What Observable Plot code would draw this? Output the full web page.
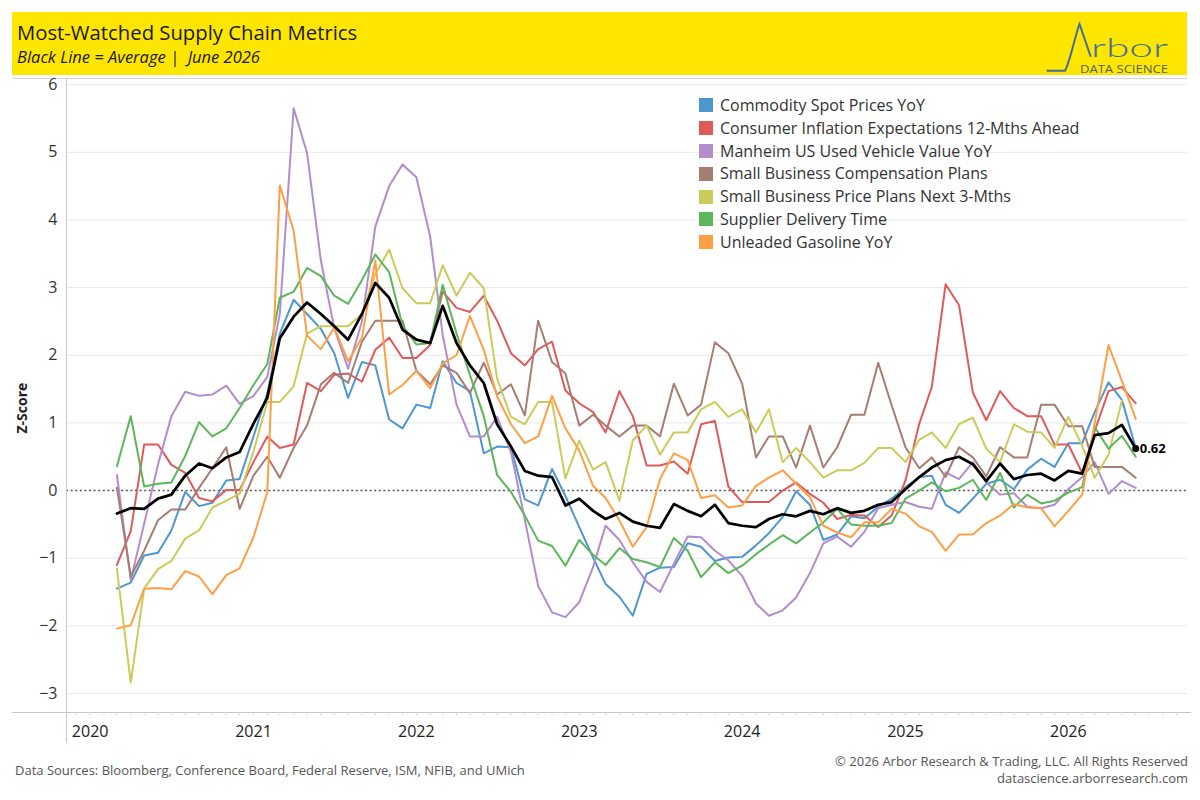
<!DOCTYPE html>
<html>
<head>
<meta charset="utf-8">
<script src="https://cdn.jsdelivr.net/npm/d3@7"></script>
<script src="https://cdn.jsdelivr.net/npm/@observablehq/plot@0.6"></script>
<style>
  body { margin: 0; background: #fff; }
  #wrap { position: relative; width: 1200px; height: 800px; overflow: hidden; font-family: "Open Sans", sans-serif; }
  #header { position: absolute; left: 0; top: 0; }
  #chart { position: absolute; left: 0; top: 78px; }
  #legend { position: absolute; left: 699px; top: 94px; font-size: 16px; color: #333; }
  .lrow { position: relative; height: 22.8px; line-height: 22.8px; white-space: nowrap; }
  .lsw { position: absolute; left: 0; top: 4.4px; width: 14px; height: 14px; }
  .ltx { position: absolute; left: 21px; top: 0; }
  .foot { position: absolute; font-size: 13px; color: #555; white-space: nowrap; }
</style>
</head>
<body>
<div id="wrap">
  <svg id="header" width="1200" height="80" xmlns="http://www.w3.org/2000/svg">
    <rect x="12" y="12" width="1175" height="63" fill="#FFE600"></rect>
    <text x="17" y="40" font-family="Open Sans" font-size="20.3" fill="#1a1a1a">Most-Watched Supply Chain Metrics</text>
    <text x="17" y="63" font-family="Open Sans" font-style="italic" font-size="16.5" fill="#1a1a1a">Black Line = Average |&#160; June 2026</text>
    <path d="M1046.7,70.7 L1065,70.7 C1070,62 1075,36 1079.5,24 L1090.7,56.7" fill="none" stroke="#3f6f9f" stroke-width="2"></path>
    <text x="1091" y="56.7" font-family="Lato, Open Sans" font-weight="300" font-size="25" fill="#3f6f9f" textLength="77" lengthAdjust="spacingAndGlyphs">rbor</text>
    <text x="1080" y="72.5" font-family="Open Sans" font-size="11" fill="#4d6270" textLength="88" lengthAdjust="spacingAndGlyphs">DATA SCIENCE</text>
    <line x1="12" x2="1187" y1="78.5" y2="78.5" stroke="#d4d4d4" stroke-width="1"></line>
  </svg>
  <div id="chart"></div>
  <div id="legend"></div>
  <div class="foot" style="left:15px; top:761px;">Data Sources: Bloomberg, Conference Board, Federal Reserve, ISM, NFIB, and UMich</div>
  <div class="foot" style="right:12px; top:752px; text-align:right;">© 2026 Arbor Research &amp; Trading, LLC. All Rights Reserved</div>
  <div class="foot" style="right:12px; top:769px; text-align:right;">datascience.arborresearch.com</div>
</div>
<script>
// ---- Data (monthly, Mar 2020 – Jun 2026) ----
const months = d3.utcMonth.range(new Date(Date.UTC(2020, 2, 1)), new Date(Date.UTC(2026, 6, 1)));

const seriesNames = [
  "Commodity Spot Prices YoY",
  "Consumer Inflation Expectations 12-Mths Ahead",
  "Manheim US Used Vehicle Value YoY",
  "Small Business Compensation Plans",
  "Small Business Price Plans Next 3-Mths",
  "Supplier Delivery Time",
  "Unleaded Gasoline YoY"
];
const seriesColors = ["#4E97CE", "#E05A5B", "#B28DCC", "#A67D72", "#CBCB5A", "#5CB65B", "#FF9F45"];

const commodity = [-1.45,-1.36,-0.96,-0.92,-0.59,-0.02,-0.23,-0.18,0.15,0.17,
  0.80,1.44,2.32,2.82,2.61,2.39,2.03,1.37,1.90,1.85,
  1.05,0.92,1.27,1.22,1.91,1.59,1.47,0.55,0.65,0.64,
  -0.13,-0.22,0.32,-0.08,-0.54,-0.99,-1.38,-1.57,-1.85,-1.23,
  -1.14,-1.13,-0.78,-0.83,-1.04,-0.99,-0.98,-0.81,-0.63,-0.39,
  -0.01,-0.21,-0.73,-0.65,-0.38,-0.41,-0.24,-0.12,0.05,0.20,
  0.22,-0.21,-0.33,-0.12,0.10,0.16,0.02,0.31,0.47,0.35,
  0.70,0.70,1.16,1.60,1.34,0.63];
const inflationExp = [-1.10,-0.60,0.68,0.68,0.38,0.26,-0.11,-0.16,0.01,0.01,
  0.42,0.80,0.63,0.68,1.59,1.47,1.71,1.73,1.61,2.08,
  2.26,1.96,1.96,2.15,2.94,2.70,2.64,2.88,2.51,2.03,
  1.85,2.09,2.20,1.48,1.29,1.16,0.86,1.47,1.10,0.37,
  0.37,0.43,0.25,0.98,1.03,0.06,-0.17,-0.17,-0.17,0.00,
  0.12,-0.05,-0.18,-0.42,-0.36,-0.37,-0.54,-0.37,0.15,0.99,
  1.53,3.05,2.74,1.45,1.04,1.47,1.22,1.10,1.10,0.68,
  0.68,0.26,0.88,1.47,1.53,1.29];
const manheim = [0.23,-1.32,-0.49,0.38,1.10,1.46,1.40,1.42,1.55,1.28,
  1.40,1.68,2.61,5.65,4.99,3.40,2.40,1.80,2.50,3.90,
  4.50,4.82,4.63,3.75,2.30,1.27,0.80,0.80,1.09,0.57,
  -0.43,-1.41,-1.80,-1.87,-1.65,-1.13,-0.52,-0.73,-1.06,-1.35,
  -1.50,-1.08,-0.68,-0.69,-0.89,-1.03,-1.26,-1.67,-1.85,-1.77,
  -1.58,-1.22,-0.78,-0.68,-0.83,-0.61,-0.26,-0.21,-0.17,-0.24,
  -0.27,0.27,0.17,0.42,0.12,-0.06,-0.04,-0.24,-0.26,-0.21,
  0.02,0.20,0.42,-0.05,0.14,0.04];
const compPlans = [0.04,-1.27,-0.89,-0.44,-0.28,-0.28,0.04,0.33,0.64,-0.27,
  0.22,0.50,0.19,0.63,0.96,1.57,1.74,1.59,2.20,2.51,
  2.51,2.51,1.77,1.57,1.85,1.74,1.44,1.89,1.42,1.57,
  1.11,2.51,1.90,1.73,0.96,1.12,0.96,0.80,0.96,0.96,
  0.80,1.58,1.11,1.27,2.19,2.03,1.58,0.49,0.80,0.80,
  0.34,0.96,0.34,0.64,1.12,1.12,1.89,1.26,0.64,0.33,
  0.49,0.20,0.64,0.49,0.21,0.64,0.49,0.49,1.27,1.27,
  0.95,0.95,0.35,0.35,0.35,0.19];
const pricePlans = [-1.16,-2.84,-1.45,-1.16,-1.04,-0.71,-0.59,-0.25,-0.15,-0.05,
  0.58,1.31,1.31,1.54,2.32,2.43,2.43,2.43,2.61,3.20,
  3.56,2.99,2.77,2.77,3.33,2.88,3.22,2.99,1.65,1.09,
  0.98,1.31,1.31,0.18,0.74,0.31,0.42,-0.15,0.74,0.96,
  0.53,0.86,0.86,1.20,1.31,1.09,1.20,0.86,1.20,0.42,
  0.63,0.42,0.19,0.30,0.30,0.41,0.63,0.63,0.42,0.75,
  0.86,0.63,0.98,1.08,0.62,0.42,0.98,0.87,0.86,0.63,
  1.09,0.66,0.19,0.53,1.33];
const supplierDelivery = [0.36,1.10,0.06,0.10,0.12,0.51,1.01,0.80,0.92,1.22,
  1.56,1.87,2.85,2.94,3.29,3.17,2.88,2.76,3.11,3.49,
  3.23,2.44,2.16,2.18,3.04,2.32,1.71,1.10,0.23,-0.02,
  -0.37,-0.74,-0.82,-1.11,-0.73,-0.95,-1.10,-0.85,-1.01,-1.06,
  -1.13,-0.70,-0.89,-1.28,-1.06,-1.22,-1.11,-0.94,-0.80,-0.66,
  -0.78,-0.62,-0.47,-0.27,-0.50,-0.52,-0.52,-0.48,-0.12,0.00,
  0.12,-0.01,0.04,0.16,-0.14,0.26,-0.25,-0.06,-0.19,-0.15,
  -0.03,0.05,0.94,0.62,0.81,0.50];
const gasoline = [-2.04,-1.99,-1.45,-1.44,-1.46,-1.19,-1.27,-1.53,-1.25,-1.15,
  -0.69,-0.02,4.51,3.84,2.29,2.09,2.41,1.91,2.26,3.40,
  1.42,1.56,1.77,1.51,1.88,2.00,2.58,2.08,1.39,0.98,
  0.70,0.80,1.40,0.92,0.59,0.07,-0.11,-0.44,-0.83,-0.54,
  0.17,0.55,0.45,-0.11,-0.07,-0.25,-0.22,0.07,0.19,0.30,
  0.10,-0.10,-0.52,-0.62,-0.69,-0.47,-0.47,-0.27,-0.34,-0.53,
  -0.61,-0.89,-0.65,-0.65,-0.48,-0.37,-0.20,-0.25,-0.26,-0.53,
  -0.30,-0.06,1.00,2.15,1.62,1.06];
const average = [-0.34,-0.26,-0.27,-0.12,-0.06,0.22,0.40,0.33,0.49,0.57,
  0.99,1.37,2.25,2.57,2.78,2.61,2.43,2.23,2.61,3.07,
  2.85,2.38,2.23,2.18,2.73,2.18,1.85,1.59,0.98,0.65,
  0.29,0.22,0.20,-0.22,-0.12,-0.30,-0.42,-0.33,-0.46,-0.52,
  -0.55,-0.20,-0.30,-0.38,-0.21,-0.48,-0.52,-0.54,-0.42,-0.35,
  -0.38,-0.30,-0.35,-0.26,-0.33,-0.30,-0.21,-0.17,0.02,0.20,
  0.34,0.45,0.50,0.39,0.14,0.40,0.17,0.23,0.25,0.15,
  0.29,0.25,0.82,0.85,0.97,0.62];

const yTickValues = [-3, -2, -1, 0, 1, 2, 3, 4, 5, 6];
const yearTicks = d3.utcYear.range(new Date(Date.UTC(2020, 0, 1)), new Date(Date.UTC(2027, 0, 1)));
const monthTicks = d3.utcMonth.range(new Date(Date.UTC(2019, 11, 1)), new Date(Date.UTC(2026, 9, 1)));

// ---- Build tidy rows ----
const seriesValues = [commodity, inflationExp, manheim, compPlans, pricePlans, supplierDelivery, gasoline];
const rows = [];
seriesValues.forEach((arr, s) => {
  arr.forEach((v, i) => rows.push({date: months[i], value: v, series: seriesNames[s]}));
});
const avgRows = average.map((v, i) => ({date: months[i], value: v}));
const lastAvg = [avgRows[avgRows.length - 1]];

const chart = Plot.plot({
  width: 1200,
  height: 672,
  marginLeft: 66,
  marginRight: 13,
  marginTop: 0,
  marginBottom: 38,
  style: {fontFamily: "Open Sans, sans-serif", fontSize: "16px", color: "#333", background: "transparent", overflow: "visible"},
  x: {type: "utc", domain: [new Date(Date.UTC(2019, 10, 9)), new Date(Date.UTC(2026, 8, 25))]},
  y: {domain: [-3.28, 6.09]},
  color: {domain: seriesNames, range: seriesColors},
  marks: [
    Plot.gridY(yTickValues.filter(v => v !== 0), {stroke: "#e8e8e8", strokeOpacity: 1}),
    Plot.ruleY([0], {stroke: "#555", strokeWidth: 1.5, strokeDasharray: "2,2.6"}),
    Plot.frame({anchor: "left", stroke: "#c8c8c8", insetBottom: -30}),
    Plot.frame({anchor: "bottom", stroke: "#c8c8c8", insetLeft: -54, insetRight: -3}),
    Plot.axisY(yTickValues, {tickSize: 0, tickPadding: 9, tickFormat: d3.format("d"), label: null, fontSize: 16, fill: "#333"}),
    Plot.axisX(monthTicks, {tickSize: 3, stroke: "#d6d6d6", text: null, label: null}),
    Plot.axisX(yearTicks, {tickSize: 0, tickPadding: 13, tickFormat: d3.utcFormat("%Y"), label: null, fontSize: 16, fill: "#222"}),
    Plot.lineY(rows, {x: "date", y: "value", z: "series", stroke: "series", strokeWidth: 2}),
    Plot.lineY(avgRows, {x: "date", y: "value", stroke: "#000", strokeWidth: 2.75}),
    Plot.dot(lastAvg, {x: "date", y: "value", r: 3.5, fill: "#000"}),
    Plot.text(lastAvg, {x: "date", y: "value", text: d => d.value.toFixed(2), dx: 4, textAnchor: "start", fontWeight: "bold", fontSize: 13, fill: "#000"}),
    Plot.text(["Z-Score"], {frameAnchor: "left", rotate: -90, dx: -44, dy: 38, fontWeight: "bold", fontSize: 14, fill: "#222"})
  ]
});
document.getElementById("chart").appendChild(chart);

// ---- Legend ----
const legend = d3.select("#legend");
seriesNames.forEach((name, i) => {
  const row = legend.append("div").attr("class", "lrow");
  row.append("div").attr("class", "lsw").style("background", seriesColors[i]);
  row.append("div").attr("class", "ltx").text(name);
});
</script>
</body>
</html>
